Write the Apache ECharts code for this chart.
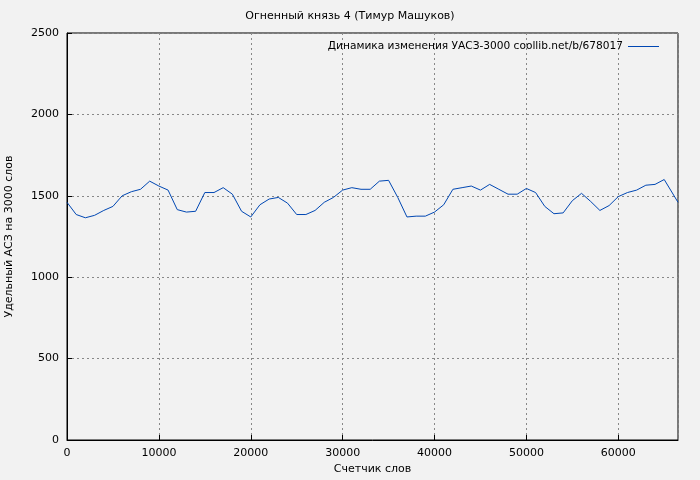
<!DOCTYPE html><html><head><meta charset="utf-8"><script src="https://cdn.jsdelivr.net/npm/echarts@6/dist/echarts.min.js"></script></head><body style="margin:0;background:#f2f2f2"><div id="c" style="width:700px;height:480px"></div><script>
const words=[0,1000,2000,3000,4000,5000,6000,7000,8000,9000,10000,11000,12000,13000,14000,15000,16000,17000,18000,19000,20000,21000,22000,23000,24000,25000,26000,27000,28000,29000,30000,31000,32000,33000,34000,35000,36000,37000,38000,39000,40000,41000,42000,43000,44000,45000,46000,47000,48000,49000,50000,51000,52000,53000,54000,55000,56000,57000,58000,59000,60000,61000,62000,63000,64000,65000,66500];
const uas=[1460,1385,1365,1380,1410,1435,1500,1525,1540,1590,1560,1535,1415,1400,1405,1520,1520,1550,1510,1405,1370,1445,1480,1490,1455,1385,1385,1410,1460,1490,1535,1550,1540,1540,1590,1595,1490,1370,1375,1375,1400,1445,1540,1550,1560,1535,1570,1540,1510,1510,1545,1520,1435,1390,1395,1470,1515,1465,1410,1440,1495,1520,1535,1565,1570,1600,1460];
const ch=echarts.init(document.getElementById('c'));
const f='DejaVu Sans';
const ax={fontFamily:f,fontSize:11,color:'#000',formatter:v=>String(v)};
ch.setOption({backgroundColor:'#f2f2f2',animation:false,
title:{text:'Огненный князь 4 (Тимур Машуков)',left:'center',top:6,textStyle:{fontFamily:f,fontSize:11,fontWeight:'normal',color:'#000'}},
legend:{right:36,top:36,align:'right',itemWidth:31,itemHeight:1,itemGap:8,icon:'rect',textStyle:{fontFamily:f,fontSize:10.6,color:'#000'},data:['Динамика изменения УАСЗ-3000 coollib.net/b/678017']},
grid:{left:67,right:22,top:33,bottom:40,outerBoundsMode:'none',containLabel:false,show:true,borderColor:'#000',borderWidth:1,backgroundColor:'transparent'},
xAxis:{type:'value',min:0,max:66500,interval:10000,name:'Счетчик слов',nameLocation:'middle',nameGap:24,nameTextStyle:{fontFamily:f,fontSize:11,color:'#000'},
axisLine:{lineStyle:{color:'#000'}},axisTick:{inside:true,lineStyle:{color:'#000'}},axisLabel:Object.assign({showMaxLabel:false},ax),splitLine:{lineStyle:{type:[2,3],color:'#888'}}},
yAxis:{type:'value',min:0,max:2500,interval:500,name:'Удельный АСЗ на 3000 слов',nameLocation:'middle',nameGap:52,nameTextStyle:{fontFamily:f,fontSize:11,color:'#000'},
axisLine:{show:true,lineStyle:{color:'#000'}},axisTick:{show:true,inside:true,lineStyle:{color:'#000'}},axisLabel:ax,splitLine:{lineStyle:{type:[2,3],color:'#888'}}},
series:[{name:'Динамика изменения УАСЗ-3000 coollib.net/b/678017',type:'line',data:words.map((w,i)=>[w,uas[i]]),showSymbol:false,lineStyle:{width:1,color:'#0047b3'},itemStyle:{color:'#0047b3'}}]});
</script></body></html>
